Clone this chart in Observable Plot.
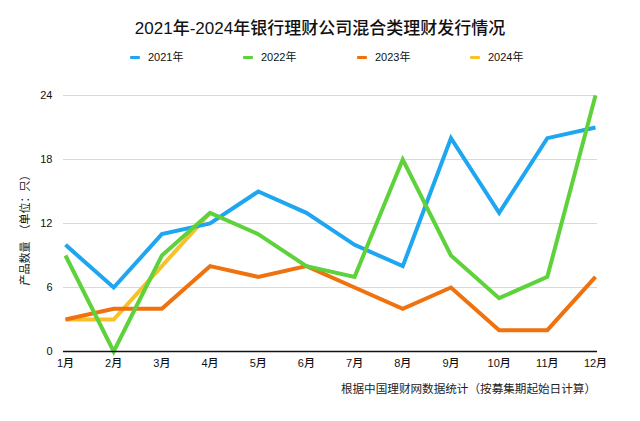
<!DOCTYPE html>
<html>
<head>
<meta charset="utf-8">
<script src="https://cdn.jsdelivr.net/npm/d3@7"></script>
<script src="https://cdn.jsdelivr.net/npm/@observablehq/plot@0.6"></script>
<style>
  html, body { margin: 0; padding: 0; background: #fff; }
  body { width: 640px; height: 421px; position: relative; overflow: hidden;
         font-family: "Liberation Sans", "Noto Sans CJK SC", sans-serif; color: #111; }
  #title { position: absolute; top: 17px; left: 0; width: 640px; text-align: center;
           font-size: 17px; line-height: 24px; font-weight: 500; }
  #legend { position: absolute; top: 49px; left: 0; width: 640px; height: 16px; }
  .item { position: absolute; top: 0; display: flex; align-items: center; font-size: 11px; line-height: 16px; }
  .sw { width: 10px; height: 3px; margin-right: 8px; border-radius: 1px; }
  #chart { position: absolute; top: 75px; left: 0; }
  #caption { position: absolute; top: 380px; right: 44px; font-size: 11.6px; line-height: 18px; color: #222; }
</style>
</head>
<body>
<div id="title">2021年-2024年银行理财公司混合类理财发行情况</div>
<div id="legend"></div>
<div id="chart"></div>
<div id="caption">根据中国理财网数据统计（按募集期起始日计算）</div>
<script>
const months = ["1月","2月","3月","4月","5月","6月","7月","8月","9月","10月","11月","12月"];
const seriesNames = ["2021年","2022年","2023年","2024年"];
const seriesColors = ["#1fa6f0","#5ed23a","#f0720f","#f8c12a"];
const v2021 = [10, 6, 11, 12, 15, 13, 10, 8, 20, 13, 20, 21];
const v2022 = [9, 0, 9, 13, 11, 8, 7, 18, 9, 5, 7, 24];
const v2023 = [3, 4, 4, 8, 7, 8, 6, 4, 6, 2, 2, 7];
const v2024 = [3, 3, 8, 13];
const yTicks = [0, 6, 12, 18, 24];
const yLabel = "产品数量  （单位：只）";

const valuesBySeries = {"2021年": v2021, "2022年": v2022, "2023年": v2023, "2024年": v2024};
// drawing order: 2024 bottom, then 2021, 2023, 2022 on top
const drawOrder = ["2024年","2021年","2023年","2022年"];
const data = [];
for (const s of drawOrder) {
  valuesBySeries[s].forEach((v, i) => data.push({series: s, m: i + 1, v}));
}

// legend
const legend = document.getElementById("legend");
const legendLefts = [130, 243, 357, 470];
seriesNames.forEach((s, i) => {
  const it = document.createElement("div");
  it.className = "item";
  it.style.left = legendLefts[i] + "px";
  it.innerHTML = `<span class="sw" style="background:${seriesColors[i]}"></span><span>${s}</span>`;
  legend.appendChild(it);
});

const chart = Plot.plot({
  width: 640,
  height: 320,
  marginTop: 20,
  marginBottom: 44,
  marginLeft: 63,
  marginRight: 43,
  style: {fontFamily: "'Liberation Sans', 'Noto Sans CJK SC', sans-serif", fontSize: "11px", color: "#111", background: "#fff"},
  x: {type: "linear", domain: [1, 12], insetLeft: 2, insetRight: 2, axis: null},
  y: {domain: [0, 24], ticks: yTicks, axis: null},
  color: {domain: seriesNames, range: seriesColors},
  marks: [
    Plot.ruleY(yTicks.filter(d => d > 0), {stroke: "#d9d9d9", strokeWidth: 1}),
    Plot.axisY({ticks: yTicks, tickSize: 0, tickPadding: 11, label: null, fontSize: 11}),
    Plot.axisX({ticks: d3.range(1, 13), tickFormat: d => months[d - 1], tickSize: 0, tickPadding: 8, label: null, fontSize: 11, fontWeight: 500}),
    Plot.text([yLabel], {frameAnchor: "left", text: d => d, rotate: -90, textAnchor: "middle", dx: -38, dy: 4, fontSize: 11, fill: "#111"}),
    Plot.line(data, {x: "m", y: "v", z: "series", stroke: "series", strokeWidth: 4, strokeLinejoin: "miter", strokeMiterlimit: 10, strokeLinecap: "butt"}),
    Plot.ruleY([0], {stroke: "#111", strokeWidth: 1.5})
  ]
});
document.getElementById("chart").appendChild(chart);
</script>
</body>
</html>
